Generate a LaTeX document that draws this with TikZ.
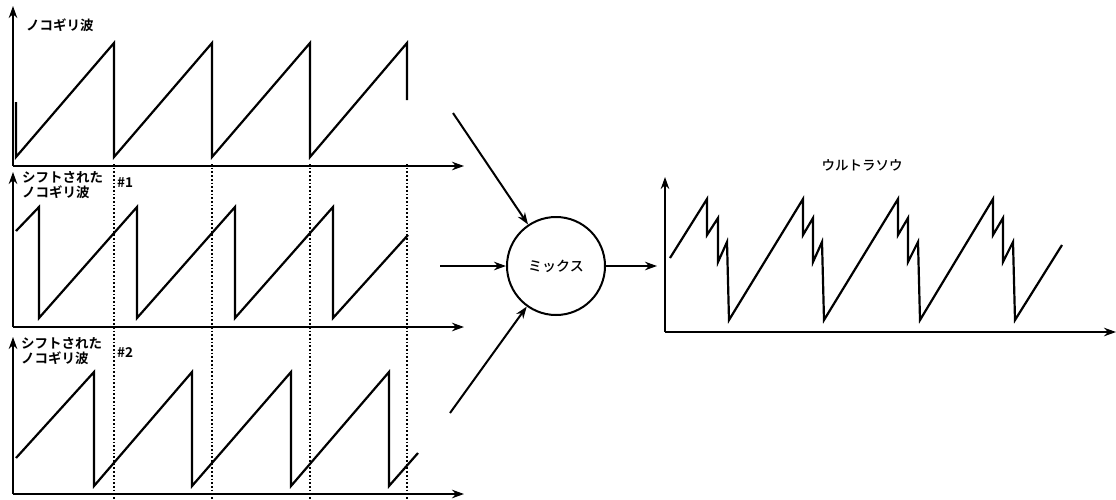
\documentclass[tikz,border=0pt]{standalone}
\usepackage{fontspec}
\setmainfont{Noto Sans CJK JP}[BoldFont={Noto Sans CJK JP Bold}]
\newfontfamily\midfont{Noto Sans CJK JP Medium}
\usetikzlibrary{arrows.meta}
\tikzset{
  wave/.style={line width=2.2pt, line join=miter},
  axis/.style={line width=2.2pt, -{Stealth[length=12pt,width=8.5pt]}},
  feed/.style={line width=2pt, -{Stealth[length=12pt,width=8.5pt]}},
  guide/.style={line width=1.7pt, dotted},
  tag/.style={font=\bfseries\fontsize{13.5}{15}\selectfont, inner sep=0pt, align=left},
  plain/.style={font=\midfont\fontsize{13.5}{15}\selectfont, inner sep=0pt},
  mixer/.style={circle, draw, line width=2pt, minimum size=98pt, inner sep=0pt, font=\midfont\fontsize{14}{15}\selectfont}
}
\begin{document}
\begin{tikzpicture}[x=1pt, y=-1pt]
\useasboundingbox (0,0) rectangle (1116,499);

% dotted guides at the original sawtooth resets
\foreach \gx in {114,212,310,407}
  \draw[guide] (\gx,164) -- (\gx,499);

% axes of the three input plots
\coordinate (o1) at (13,166);
\coordinate (o2) at (13,327);
\coordinate (o3) at (13,494);
\draw[axis] (o1) -- (13,6);
\draw[axis] (o1) -- (464,166);
\draw[axis] (o2) -- (13,172);
\draw[axis] (o2) -- (464,327);
\draw[axis] (o3) -- (13,337);
\draw[axis] (o3) -- (464,494);

% sawtooth
\draw[wave] (16,102) -- (16,157) -- (114,43) -- (114,157) -- (212,43) -- (212,157)
  -- (310,43) -- (310,157) -- (407,43) -- (407,100);
% shifted sawtooth #1
\draw[wave] (16,231) -- (39,207) -- (39,318) -- (137,207) -- (137,318) -- (235,207)
  -- (235,318) -- (333,207) -- (333,318) -- (408,235);
% shifted sawtooth #2
\draw[wave] (16,458) -- (94,372) -- (94,486) -- (192,372) -- (192,486) -- (291,372)
  -- (291,486) -- (389,372) -- (389,486) -- (418,453);

% plot labels
\node[tag, anchor=west] (l1) at (26,25) {ノコギリ波};
\node[tag, anchor=north west] (l2) at (22,171) {シフトされた\\ノコギリ波};
\node[tag, anchor=west] (n1) at (117,183) {\#1};
\node[tag, anchor=north west] (l3) at (21,337) {シフトされた\\ノコギリ波};
\node[tag, anchor=west] (n2) at (117,353) {\#2};

% mixer
\node[mixer] (mix) at (556,266) {ミックス};
\coordinate (in1) at (453,113);
\coordinate (in2) at (440,266);
\coordinate (in3) at (450,413);
\coordinate (out) at (657,266);
\draw[feed] (in1) -- (mix);
\draw[feed] (in2) -- (mix);
\draw[feed] (in3) -- (mix);
\draw[feed] (mix) -- (out);

% output plot
\coordinate (o4) at (665,332);
\draw[axis] (o4) -- (665,177);
\draw[axis] (o4) -- (1116,332);
\node[plain] (l4) at (862,165) {ウルトラソウ};
\draw[wave] (670,258) -- (707,199) -- (707,235) -- (718,218) -- (718,262) -- (727,242) -- (729,320)
  -- (803,199) -- (803,235) -- (813,218) -- (813,262) -- (822,242) -- (824,320)
  -- (898,199) -- (898,235) -- (908,218) -- (908,262) -- (918,242) -- (920,320)
  -- (993,199) -- (993,235) -- (1003,218) -- (1003,262) -- (1013,242) -- (1015,320)
  -- (1062,245);
\end{tikzpicture}
\end{document}
